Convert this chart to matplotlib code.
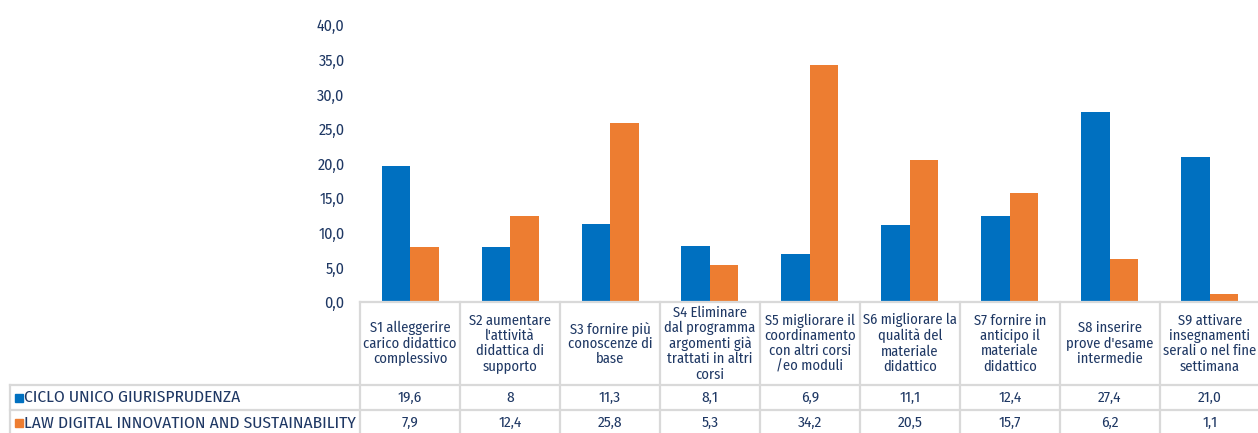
import matplotlib
matplotlib.use('Agg')
import matplotlib.pyplot as plt
import numpy as np

# data
categories = [
    "S1 alleggerire\ncarico didattico\ncomplessivo",
    "S2 aumentare\nl'attività\ndidattica di\nsupporto",
    "S3 fornire più\nconoscenze di\nbase",
    "S4 Eliminare\ndal programma\nargomenti già\ntrattati in altri\ncorsi",
    "S5 migliorare il\ncoordinamento\ncon altri corsi\n/eo moduli",
    "S6 migliorare la\nqualità del\nmateriale\ndidattico",
    "S7 fornire in\nanticipo il\nmateriale\ndidattico",
    "S8 inserire\nprove d'esame\nintermedie",
    "S9 attivare\ninsegnamenti\nserali o nel fine\nsettimana",
]
series_names = ["CICLO UNICO GIURISPRUDENZA", "LAW DIGITAL INNOVATION AND SUSTAINABILITY"]
ciclo_unico = [19.6, 8, 11.3, 8.1, 6.9, 11.1, 12.4, 27.4, 21.0]
law_digital = [7.9, 12.4, 25.8, 5.3, 34.2, 20.5, 15.7, 6.2, 1.1]
ciclo_labels = ["19,6", "8", "11,3", "8,1", "6,9", "11,1", "12,4", "27,4", "21,0"]
law_labels = ["7,9", "12,4", "25,8", "5,3", "34,2", "20,5", "15,7", "6,2", "1,1"]
yticks = [0, 5, 10, 15, 20, 25, 30, 35, 40]

blue = '#0070C0'
orange = '#ED7D31'
text_col = '#1F3864'
grid_col = '#D9D9D9'

plt.rcParams['font.family'] = ['Fira Sans Condensed', 'DejaVu Sans']

W, H = 1258, 433
fig = plt.figure(figsize=(W / 100, H / 100), dpi=100)
ax = fig.add_axes([360 / W, (H - 302) / H, 900 / W, 277 / H])

x = np.arange(len(categories))
bw = 0.285
ax.bar(x - bw / 2, ciclo_unico, bw, color=blue)
ax.bar(x + bw / 2, law_digital, bw, color=orange)

ax.set_xlim(-0.5, len(categories) - 0.5)
ax.set_ylim(0, 40)
ax.set_yticks(yticks)
ax.set_yticklabels([f"{v:.1f}".replace('.', ',') for v in yticks])
ax.tick_params(axis='y', length=0, pad=11, labelsize=11.5, labelcolor=text_col)
ax.set_xticks([])
for s in ax.spines.values():
    s.set_visible(False)

# data table below the axes
tr = ax.get_xaxis_transform()
y_top = 0.0
y_hdr = -83 / 277
y_r1 = -108 / 277
y_r2 = -134 / 277
x_left = -4.0
n = len(categories)
lw = 1.6
kw = dict(color=grid_col, lw=lw, transform=tr, clip_on=False)

ax.plot([-0.5, n - 0.5], [y_top, y_top], **kw)
for yy in [y_hdr, y_r1, y_r2]:
    ax.plot([x_left, n - 0.5], [yy, yy], **kw)
for i in range(n + 1):
    ax.plot([i - 0.5, i - 0.5], [y_top, y_r2], **kw)
ax.plot([x_left, x_left], [y_hdr, y_r2], **kw)

for i, cat in enumerate(categories):
    ax.text(i, (y_top + y_hdr) / 2, cat, transform=tr, ha='center', va='center',
            fontsize=10.5, color=text_col, linespacing=1.1, clip_on=False)
    ax.text(i, (y_hdr + y_r1) / 2, ciclo_labels[i], transform=tr, ha='center',
            va='center', fontsize=11, color=text_col, clip_on=False)
    ax.text(i, (y_r1 + y_r2) / 2, law_labels[i], transform=tr, ha='center',
            va='center', fontsize=11, color=text_col, clip_on=False)

for yy, name, col in [((y_hdr + y_r1) / 2, series_names[0], blue),
                      ((y_r1 + y_r2) / 2, series_names[1], orange)]:
    ax.plot([x_left + 0.085], [yy], marker='s', ms=6, color=col, transform=tr, clip_on=False)
    ax.text(x_left + 0.135, yy, name, transform=tr, ha='left', va='center',
            fontsize=12.5, color=text_col, clip_on=False)

fig.savefig('out.png', dpi=100)
